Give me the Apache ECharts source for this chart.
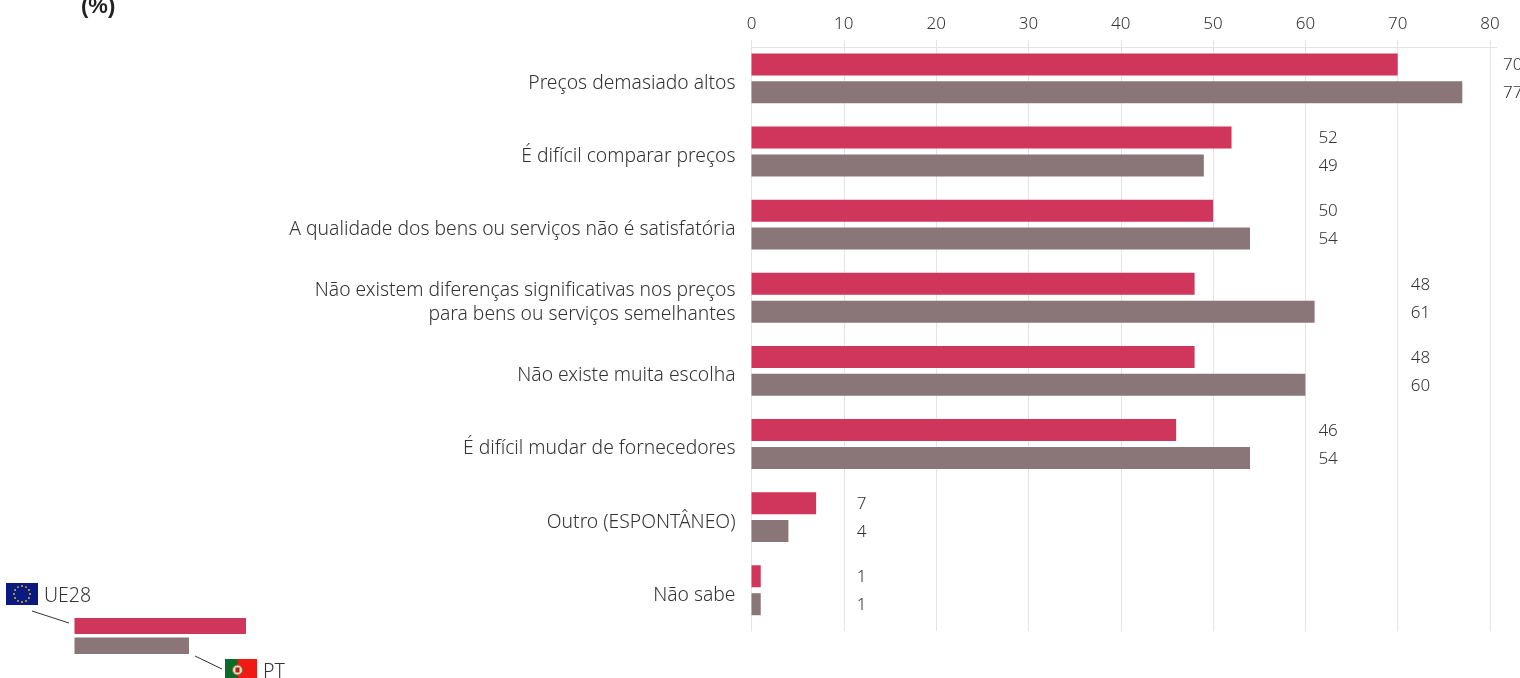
<!DOCTYPE html>
<html><head><meta charset="utf-8">
<style>html,body{margin:0;padding:0;background:#fff;overflow:hidden}#c{width:1520px;height:678px}</style>
<script src="https://cdn.jsdelivr.net/npm/echarts@6/dist/echarts.min.js"></script>
</head><body><div id="c"></div>
<script>
const categories = ["Preços demasiado altos","É difícil comparar preços","A qualidade dos bens ou serviços não é satisfatória","Não existem diferenças significativas nos preços\npara bens ou serviços semelhantes","Não existe muita escolha","É difícil mudar de fornecedores","Outro (ESPONTÂNEO)","Não sabe"];
const ue28 = [70,52,50,48,48,46,7,1];
const pt = [77,49,54,61,60,54,4,1];
const labelColumns = [80,60,60,70,70,60,10,10];
const xTicks = [0,10,20,30,40,50,60,70,80];
const RED = '#D0355B', GREY = '#8A7679', TXT = '#333333', LINE = '#E4E4E4';
const FONT = '"Noto Sans", sans-serif';
const chart = echarts.init(document.getElementById('c'), null, {renderer:'canvas'});

const stars = [];
for (let i = 0; i < 12; i++) {
  const a = i * Math.PI / 6;
  stars.push({type:'circle', shape:{cx:22 + 8 * Math.cos(a), cy:594 + 8 * Math.sin(a), r:0.9}, style:{fill:'#E8C820'}});
}
const labelSeries = (vals, name) => ({
  name, type:'bar', xAxisIndex:1, yAxisIndex:1, barWidth:22, barGap:'27%', silent:true,
  data: labelColumns, itemStyle:{color:'transparent'},
  label:{show:true, position:'right', distance:13, offset:[0,1], color:TXT, fontFamily:FONT, fontWeight:300, fontSize:17,
    formatter:p => vals[p.dataIndex]}
});
const hiddenY = {type:'category', inverse:true, data:categories, axisLine:{show:false}, axisTick:{show:false}, axisLabel:{show:false}, splitLine:{show:false}};
const hiddenX = {type:'value', min:0, max:80, interval:10, axisLine:{show:false}, axisTick:{show:false}, axisLabel:{show:false}, splitLine:{show:false}};

chart.setOption({
  animation:false, backgroundColor:'#fff',
  grid:[
    {left:751.5, width:738.5, top:41.8, height:585},
    {left:751.5, width:738.5, top:40, height:591},
    {left:751.5, width:738.5, top:46.8, height:585}
  ],
  xAxis:[
    {type:'value', gridIndex:0, position:'top', min:0, max:80, interval:10,
     axisLine:{show:false}, axisTick:{show:false}, splitLine:{show:false},
     axisLabel:{margin:9, color:TXT, fontFamily:FONT, fontWeight:300, fontSize:17,
       customValues:xTicks, formatter:v => String(v)}},
    Object.assign({gridIndex:0}, hiddenX),
    Object.assign({gridIndex:1}, hiddenX, {splitLine:{show:true, lineStyle:{color:LINE, width:1}}}),
    Object.assign({gridIndex:2}, hiddenX)
  ],
  yAxis:[
    Object.assign({gridIndex:0}, hiddenY),
    Object.assign({gridIndex:0}, hiddenY),
    Object.assign({gridIndex:1}, hiddenY, {data:[''], axisLine:{show:true, onZero:false, lineStyle:{color:LINE, width:1}}}),
    {type:'category', gridIndex:2, inverse:true, data:categories,
     axisLine:{show:false}, axisTick:{show:false}, splitLine:{show:false},
     axisLabel:{margin:16, align:'right', color:TXT, fontFamily:FONT, fontWeight:300, fontSize:19.3, lineHeight:24, interval:0}}
  ],
  series:[
    {name:'UE28', type:'bar', xAxisIndex:0, yAxisIndex:0, data:ue28, barWidth:22, barGap:'27%', itemStyle:{color:RED}},
    {name:'PT', type:'bar', xAxisIndex:0, yAxisIndex:0, data:pt, barWidth:22, itemStyle:{color:GREY}},
    labelSeries(ue28,'UE28 labels'),
    labelSeries(pt,'PT labels')
  ],
  graphic:[
    {type:'line', shape:{x1:751, y1:47.5, x2:1497, y2:47.5}, style:{stroke:LINE, lineWidth:1}},
    {type:'text', x:81, y:-4, style:{text:'(%)', font:'bold 22px "Liberation Sans", sans-serif', fill:'#222'}},
    {type:'rect', shape:{x:6, y:583, width:32, height:22}, style:{fill:'#0A1A80'}},
    ...stars,
    {type:'text', x:44, y:586, style:{text:'UE28', font:'300 19.5px "Noto Sans", sans-serif', fill:TXT}},
    {type:'line', shape:{x1:32, y1:611, x2:69, y2:623}, style:{stroke:'#333', lineWidth:1}},
    {type:'rect', shape:{x:74.5, y:618, width:171.5, height:16}, style:{fill:RED}},
    {type:'rect', shape:{x:74.5, y:637.5, width:114.5, height:16.5}, style:{fill:GREY}},
    {type:'line', shape:{x1:195, y1:656, x2:222, y2:669}, style:{stroke:'#333', lineWidth:1}},
    {type:'rect', shape:{x:225, y:659, width:13, height:22}, style:{fill:'#0B6B2B'}},
    {type:'rect', shape:{x:238, y:659, width:19, height:22}, style:{fill:'#F01A14'}},
    {type:'circle', shape:{cx:237.5, cy:670, r:5}, style:{fill:'#E8DFC0', stroke:'#8a6a30', lineWidth:1}},
    {type:'rect', shape:{x:235.5, y:667.5, width:4, height:5}, style:{fill:'#B02020'}},
    {type:'text', x:263, y:662, style:{text:'PT', font:'300 19.5px "Noto Sans", sans-serif', fill:TXT}}
  ]
});
</script></body></html>
